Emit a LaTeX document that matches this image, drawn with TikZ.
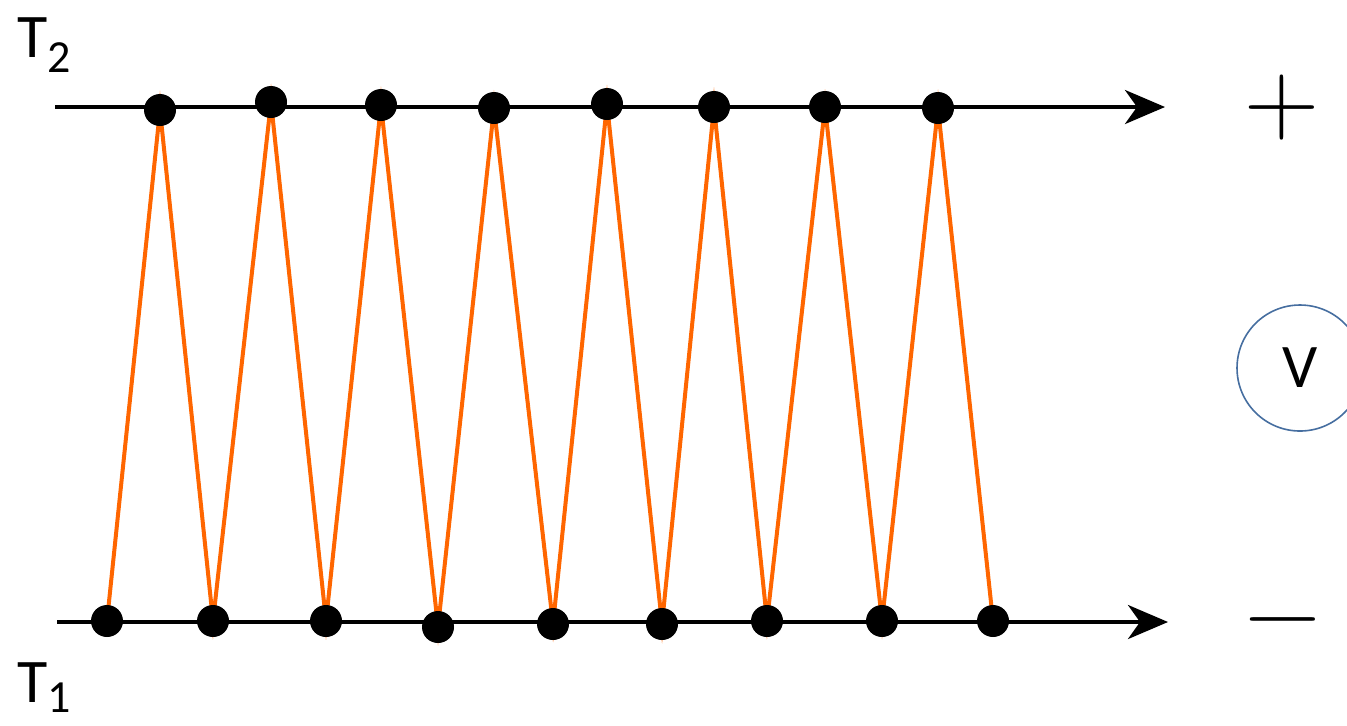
\documentclass[tikz,border=0pt]{standalone}
\usepackage{fontspec}
\setmainfont{Carlito}
\newfontfamily\lmfont{Latin Modern Roman}
\usetikzlibrary{arrows.meta,backgrounds}
\definecolor{zig}{RGB}{255,102,0}
\definecolor{ring}{RGB}{70,110,160}
\tikzset{
  dot/.style={circle,fill=black,inner sep=0pt,minimum size=16pt},
  rail/.style={line width=2pt,-{Stealth[length=20pt,width=17pt,inset=6pt]}},
  wire/.style={draw=zig,line width=2pt,line join=miter},
  lbl/.style={font=\fontsize{31}{31}\selectfont,inner sep=0pt,anchor=base west},
  sign/.style={font=\lmfont\fontsize{52}{52}\selectfont,inner sep=0pt,anchor=base}
}
\begin{document}
\begin{tikzpicture}[x=0.5pt,y=-0.5pt]
\useasboundingbox (0,0) rectangle (1347,725);
% rails
\coordinate (ts) at (55,107);
\coordinate (te) at (1165,107);
\coordinate (bs) at (57,622);
\coordinate (be) at (1168,622);
% top dots
\node[dot] (t1) at (160,110) {};
\node[dot] (t2) at (271,102) {};
\node[dot] (t3) at (381,105) {};
\node[dot] (t4) at (494,108) {};
\node[dot] (t5) at (607,104) {};
\node[dot] (t6) at (714,107) {};
\node[dot] (t7) at (825,107) {};
\node[dot] (t8) at (938,108) {};
% bottom dots
\node[dot] (b1) at (107,621) {};
\node[dot] (b2) at (213,621) {};
\node[dot] (b3) at (326,621) {};
\node[dot] (b4) at (438,627) {};
\node[dot] (b5) at (553,624) {};
\node[dot] (b6) at (662,624) {};
\node[dot] (b7) at (767,621) {};
\node[dot] (b8) at (882,621) {};
\node[dot] (b9) at (993,621) {};
\begin{scope}[on background layer]
\draw[rail] (ts) -- (te);
\draw[rail] (bs) -- (be);
\draw[wire] (b1.center) -- (t1.center) -- (b2.center) -- (t2.center) -- (b3.center)
  -- (t3.center) -- (b4.center) -- (t4.center) -- (b5.center) -- (t5.center)
  -- (b6.center) -- (t6.center) -- (b7.center) -- (t7.center) -- (b8.center)
  -- (t8.center) -- (b9.center);
\end{scope}
% labels
\node[lbl] (T2) at (17,57) {T\raisebox{-7.5pt}{\fontsize{23}{23}\selectfont 2}};
\node[lbl] (T1) at (17,702) {T\raisebox{-5pt}{\fontsize{23}{23}\selectfont 1}};
\node[sign] (plus) at (1282,133) {+};
\node[sign] (minus) at (1283,645) {−};
\node[circle,draw=ring,line width=0.8pt,minimum size=63pt,inner sep=0pt] (vm) at (1300,368) {};
\node[font=\fontsize{31}{31}\selectfont,inner sep=0pt,anchor=base] (V) at (1300,387) {V};
\end{tikzpicture}
\end{document}
